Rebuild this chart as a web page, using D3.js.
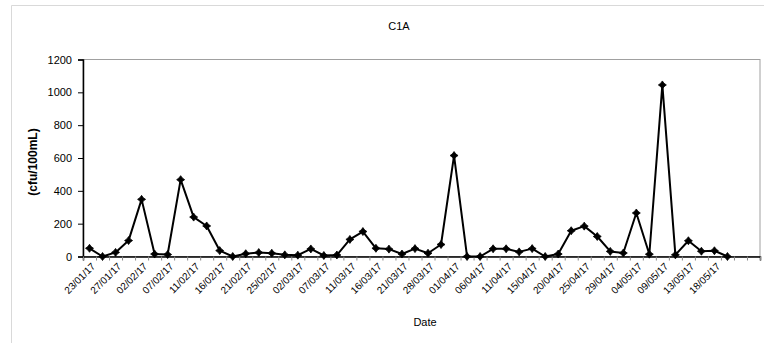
<!DOCTYPE html>
<html>
<head>
<meta charset="utf-8">
<script src="https://cdn.jsdelivr.net/npm/d3@7"></script>
<style>
  html, body { margin: 0; padding: 0; background: #fff; }
  svg { display: block; font-family: "Liberation Sans", Arial, sans-serif; }
</style>
</head>
<body>
<script>
// sampling dates (only every second one is labelled on the axis)
const dates = [
  "23/01/17", "25/01/17", "27/01/17", "30/01/17", "02/02/17", "05/02/17", "07/02/17", "09/02/17",
  "11/02/17", "14/02/17", "16/02/17", "18/02/17", "21/02/17", "23/02/17", "25/02/17", "28/02/17",
  "02/03/17", "05/03/17", "07/03/17", "09/03/17", "11/03/17", "14/03/17", "16/03/17", "18/03/17",
  "21/03/17", "24/03/17", "28/03/17", "30/03/17", "01/04/17", "04/04/17", "06/04/17", "08/04/17",
  "11/04/17", "13/04/17", "15/04/17", "18/04/17", "20/04/17", "23/04/17", "25/04/17", "27/04/17",
  "29/04/17", "02/05/17", "04/05/17", "07/05/17", "09/05/17", "11/05/17", "13/05/17", "16/05/17",
  "18/05/17", "20/05/17"
];
// cfu/100mL
const counts = [
  50, 0, 25, 97, 348, 15, 12, 468, 240, 186,
  36, 0, 17, 24, 20, 10, 8, 46, 6, 9,
  104, 152, 50, 45, 15, 48, 20, 73, 615, 0,
  0, 47, 47, 28, 48, 0, 15, 157, 185, 122,
  31, 21, 265, 14, 1045, 10, 96, 32, 35, 0
];
const emptySlots = 2;          // blank categories left on the axis after the last sample
const yTicks = [0, 200, 400, 600, 800, 1000, 1200];

const width = 764, height = 343;
const plotLeft = 83, plotRight = 760, plotTop = 59.5, plotBottom = 256.5;
const nCats = dates.length + emptySlots;

const data = dates.map((d, i) => ({ i, date: d, value: counts[i] }));

const x = d3.scaleLinear().domain([0, nCats]).range([plotLeft, plotRight]);
const y = d3.scaleLinear().domain([0, 1200]).range([plotBottom, plotTop]);

// small four-pointed marker, like the spreadsheet's diamond
const starMarker = {
  draw(ctx, size) {
    const r = Math.sqrt(size) * 0.8, k = r * 0.42;
    ctx.moveTo(0, -r);
    ctx.lineTo(k, -k);
    ctx.lineTo(r, 0);
    ctx.lineTo(k, k);
    ctx.lineTo(0, r);
    ctx.lineTo(-k, k);
    ctx.lineTo(-r, 0);
    ctx.lineTo(-k, -k);
    ctx.closePath();
  }
};

const svg = d3.select("body").append("svg")
    .attr("width", width)
    .attr("height", height);

// outer chart frame
svg.append("path")
    .attr("d", `M11.5,${height} V5.5 H${width}`)
    .attr("fill", "none")
    .attr("stroke", "#d9d9d9");

// plot area border
svg.append("rect")
    .attr("x", plotLeft).attr("y", plotTop)
    .attr("width", plotRight - plotLeft).attr("height", plotBottom - plotTop)
    .attr("fill", "none")
    .attr("stroke", "#a0a0a0");

svg.append("text")
    .attr("x", 399).attr("y", 30)
    .attr("text-anchor", "middle")
    .attr("font-size", 11)
    .text("C1A");

// y axis
const yAxis = svg.append("g")
    .attr("transform", `translate(${plotLeft},0)`)
    .call(d3.axisLeft(y).tickValues(yTicks).tickFormat(d3.format("d")).tickSize(5).tickPadding(6));
yAxis.select(".domain").attr("stroke", "#000").attr("stroke-width", 1.5);
yAxis.selectAll(".tick line").attr("stroke", "#000");
yAxis.selectAll("text").attr("font-size", 11).attr("font-family", null).attr("fill", "#000");

svg.append("text")
    .attr("transform", `translate(37,162) rotate(-90)`)
    .attr("text-anchor", "middle")
    .attr("font-size", 12)
    .attr("font-weight", "bold")
    .text("(cfu/100mL)");

// x axis: tick marks between categories, labels on every second category
const xAxis = svg.append("g")
    .attr("transform", `translate(0,${plotBottom})`)
    .call(d3.axisBottom(x).tickValues(d3.range(nCats + 1)).tickSize(4).tickFormat(""));
xAxis.select(".domain").attr("stroke", "#000").attr("stroke-width", 1.5);
xAxis.selectAll(".tick line").attr("stroke", "#888");

svg.append("g")
    .attr("font-size", 10)
    .selectAll("text")
    .data(data.filter(d => d.i % 2 === 0))
    .join("text")
      .attr("text-anchor", "end")
      .attr("transform", d => `translate(${x(d.i + 0.5) + 4},${plotBottom + 8}) rotate(-45)`)
      .attr("dy", "0.35em")
      .text(d => d.date);

svg.append("text")
    .attr("x", 425).attr("y", 326)
    .attr("text-anchor", "middle")
    .attr("font-size", 11)
    .text("Date");

// series
const line = d3.line()
    .x(d => x(d.i + 0.5))
    .y(d => y(d.value));

svg.append("path")
    .datum(data)
    .attr("fill", "none")
    .attr("stroke", "#000")
    .attr("stroke-width", 2)
    .attr("stroke-linejoin", "round")
    .attr("d", line);

svg.append("g")
    .selectAll("path")
    .data(data)
    .join("path")
      .attr("transform", d => `translate(${x(d.i + 0.5)},${y(d.value)})`)
      .attr("d", d3.symbol(starMarker, 25))
      .attr("fill", "#000")
      .attr("stroke", "#000")
      .attr("stroke-width", 0.8);
</script>
</body>
</html>
